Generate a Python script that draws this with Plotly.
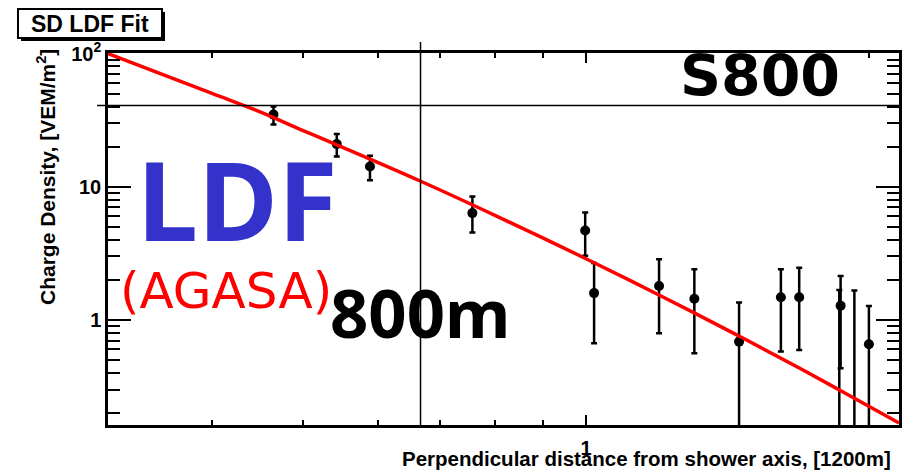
import plotly.graph_objects as go
import math

# ---- data ----
# measured charge densities: distance [1200 m units], density [VEM/m^2], errors
dist = [0.465, 0.543, 0.589, 0.757, 0.998, 1.02, 1.196, 1.304, 1.455, 1.612, 1.686, 1.866, 1.86, 1.93, 2.0]
dens = [34.8, 20.9, 14.2, 6.34, 4.69, 1.59, 1.80, 1.44, 0.687, 1.48, 1.48, 1.28, 0.10, 0.10, 0.656]
err_hi = [40.0, 24.9, 17.1, 8.46, 6.41, 2.68, 2.86, 2.40, 1.35, 2.40, 2.46, 2.14, 1.68, 1.66, 1.27]
err_lo = [29.3, 16.9, 11.2, 4.53, 3.03, 0.668, 0.794, 0.562, 0.05, 0.578, 0.595, 0.433, 0.05, 0.05, 0.05]

# LDF fit curve
fit_x = [0.310, 0.40, 0.45, 0.50, 0.547, 0.667, 0.80, 1.0, 1.2, 1.45, 1.7, 1.9, 2.153]
fit_y = [100.0, 50.2, 36.5, 26.4, 20.2, 11.0, 6.1, 2.88, 1.52, 0.766, 0.422, 0.274, 0.168]

r800 = 800 / 1200      # 800 m in units of 1200 m
s800 = 40.8            # horizontal S800 marker line

x_range = [0.310, 2.153]
y_range = [0.1625, 101.0]

y_ticks = [1, 10, 100]
y_ticktext = ["<b>1</b>", "<b>10</b>", "<b>10<sup>2</sup></b>"]
x_ticks = [1]
x_ticktext = ["<b>1</b>"]
y_minor = [0.2, 0.3, 0.4, 0.5, 0.6, 0.7, 0.8, 0.9, 2, 3, 4, 5, 6, 7, 8, 9, 20, 30, 40, 50, 60, 70, 80, 90]
x_minor = [0.4, 0.5, 0.6, 0.7, 0.8, 0.9, 2]

W, H = 918, 473
L, R, T, B = 108, 19, 53, 48
PW, PH = W - L - R, H - T - B


def px(xp):
    return (xp - L) / PW


def py(yp):
    return (H - B - yp) / PH


err_plus = [h - v for h, v in zip(err_hi, dens)]
err_minus = [v - l for v, l in zip(dens, err_lo)]

fig = go.Figure()
fig.add_trace(go.Scatter(
    x=dist, y=dens, mode="markers",
    marker=dict(color="black", size=10),
    error_y=dict(type="data", symmetric=False, array=err_plus, arrayminus=err_minus,
                 color="black", thickness=2.5, width=3),
    showlegend=False, hoverinfo="skip"))
fig.add_trace(go.Scatter(
    x=fit_x, y=fit_y, mode="lines", line=dict(color="#ff0000", width=3.5, shape="spline"),
    showlegend=False, hoverinfo="skip"))

axis_font = dict(family="Liberation Sans, Arial, sans-serif", size=20, color="black")

fig.update_xaxes(
    type="log", range=[math.log10(x_range[0]), math.log10(x_range[1])],
    tickmode="array", tickvals=x_ticks, ticktext=x_ticktext,
    ticks="inside", ticklen=10, tickwidth=2, tickcolor="black",
    minor=dict(tickmode="array", tickvals=x_minor, ticks="inside", ticklen=5, tickwidth=2, tickcolor="black"),
    showline=True, linewidth=2.5, linecolor="black", mirror="ticks",
    showgrid=False, zeroline=False, tickfont=axis_font, ticklabelstandoff=3)
fig.update_yaxes(
    type="log", range=[math.log10(y_range[0]), math.log10(y_range[1])],
    tickmode="array", tickvals=y_ticks, ticktext=y_ticktext,
    ticks="inside", ticklen=23, tickwidth=2, tickcolor="black",
    minor=dict(tickmode="array", tickvals=y_minor, ticks="inside", ticklen=12, tickwidth=2, tickcolor="black"),
    showline=True, linewidth=2.5, linecolor="black", mirror="ticks",
    showgrid=False, zeroline=False, tickfont=axis_font, ticklabelstandoff=0)

shapes = [
    # vertical 800 m line
    dict(type="line", xref="x", yref="paper", x0=r800, x1=r800, y0=0, y1=py(42),
         line=dict(color="black", width=1.5)),
    # horizontal S800 line
    dict(type="line", xref="paper", yref="y", x0=px(97), x1=1, y0=s800, y1=s800,
         line=dict(color="black", width=1.5)),
    # title box shadow + box
    dict(type="rect", xref="paper", yref="paper", x0=px(21), x1=px(165), y0=py(41), y1=py(12),
         fillcolor="black", line=dict(width=0)),
    dict(type="rect", xref="paper", yref="paper", x0=px(18), x1=px(162), y0=py(38), y1=py(9),
         fillcolor="white", line=dict(color="black", width=2)),
]

annotations = [
    dict(text="<b>SD LDF Fit</b>", x=px(90), y=py(24), xanchor="center", yanchor="middle",
         font=dict(family="Liberation Sans, Arial", size=23, color="black")),
    dict(text="<b>Charge Density, [VEM/m<sup>2</sup>]</b>", x=px(46), y=py(177), textangle=-90,
         xanchor="center", yanchor="middle",
         font=dict(family="Liberation Sans, Arial", size=21, color="black")),
    dict(text="<b>Perpendicular distance from shower axis, [1200m]</b>", x=px(893), y=py(459),
         xanchor="right", yanchor="middle",
         font=dict(family="Liberation Sans, Arial", size=20.5, color="black")),
    dict(text="<b>LDF</b>", x=px(237), y=py(198), xanchor="center", yanchor="middle",
         font=dict(family="Noto Sans", size=109, color="#3333cc")),
    dict(text="(AGASA)", x=px(226), y=py(291), xanchor="center", yanchor="middle",
         font=dict(family="DejaVu Sans", size=50, color="#ff0000")),
    dict(text="<b>800m</b>", x=px(420), y=py(312), xanchor="center", yanchor="middle",
         font=dict(family="Noto Sans", size=67, color="black")),
    dict(text="<b>S800</b>", x=px(760), y=py(76), xanchor="center", yanchor="middle",
         font=dict(family="DejaVu Sans", size=57, color="black")),
]
for a in annotations:
    a.update(xref="paper", yref="paper", showarrow=False)

fig.update_layout(
    width=W, height=H, margin=dict(l=L, r=R, t=T, b=B),
    paper_bgcolor="white", plot_bgcolor="white",
    shapes=shapes, annotations=annotations, showlegend=False)

fig.write_html("out.html")
